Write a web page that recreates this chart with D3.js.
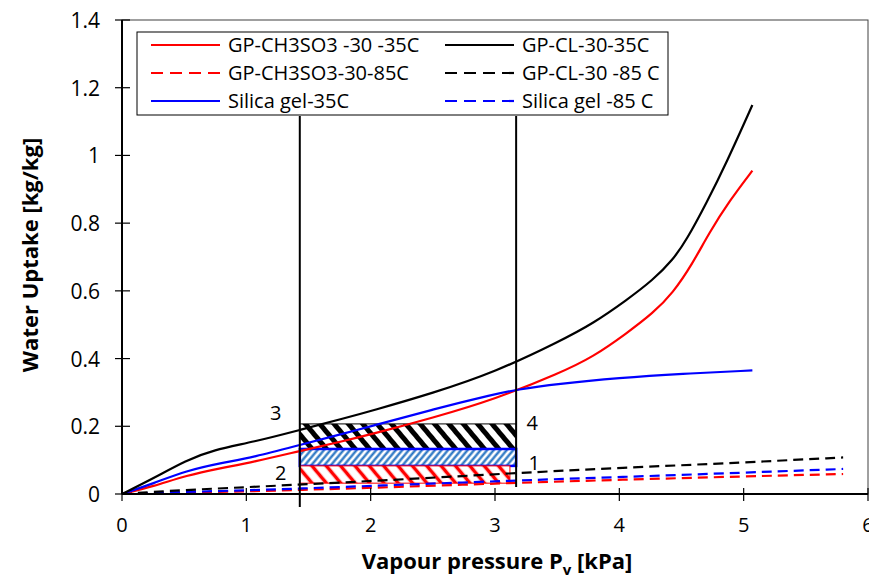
<!DOCTYPE html>
<html lang="en">
<head>
<meta charset="utf-8">
<title>Water uptake</title>
<script src="https://cdn.jsdelivr.net/npm/d3@7"></script>
<style>
    body { margin: 0; background: #fff; }
    text { font-family: "Open Sans", sans-serif; fill: #000; }
</style>
</head>
<body>
<script>
// series: [vapour pressure kPa, uptake kg/kg]
var chSolid = [[0,0],[0.25,0.022],[0.52,0.055],[0.79,0.076],[1.06,0.095],[1.43,0.127],
               [1.8,0.158],[2.0,0.176],[2.5,0.225],[3.0,0.28],[3.52,0.357],[3.79,0.405],[4.06,0.475],
               [4.27,0.534],[4.43,0.593],[4.59,0.681],[4.72,0.77],[4.89,0.868],[5.07,0.955]];
var clSolid = [[0,0],[0.25,0.046],[0.52,0.10],[0.73,0.13],[1.06,0.154],[1.43,0.189],
               [1.8,0.225],[2.0,0.245],[2.5,0.298],[3.0,0.36],[3.52,0.451],[3.79,0.504],[4.06,0.573],
               [4.27,0.632],[4.43,0.691],[4.54,0.75],[4.70,0.859],[4.86,0.977],[5.07,1.149]];
var sgSolid = [[0,0],[0.25,0.031],[0.52,0.069],[0.79,0.091],[1.06,0.109],[1.43,0.145],
               [1.8,0.18],[2.0,0.20],[2.5,0.25],[3.0,0.295],[3.17,0.308],[3.5,0.325],[4.0,0.343],
               [4.5,0.355],[5.07,0.365]];
var chDash = [[0,0],[0.5,0.004],[1.0,0.008],[1.43,0.012],[2.0,0.018],[3.17,0.033],[4.0,0.042],[5.0,0.052],[5.8,0.059]];
var clDash = [[0,0],[0.5,0.012],[1.0,0.02],[1.43,0.028],[2.0,0.038],[3.17,0.062],[4.0,0.077],[5.0,0.093],[5.8,0.108]];
var sgDash = [[0,0],[0.5,0.006],[1.0,0.011],[1.43,0.016],[2.0,0.024],[3.17,0.04],[4.0,0.05],[5.0,0.063],[5.8,0.074]];

var seriesNames = ["GP-CH3SO3 -30 -35C", "GP-CL-30-35C", "GP-CH3SO3-30-85C",
                   "GP-CL-30 -85 C", "Silica gel-35C", "Silica gel -85 C"];

var xTicks = [0, 1, 2, 3, 4, 5, 6];
var yTicks = [0, 0.2, 0.4, 0.6, 0.8, 1, 1.2, 1.4];

// cycle: pressure limits and uptake bands
var pLow = 1.43, pHigh = 3.17;
var bands = [ // [bottom, top, x end]
    [0.133, 0.207, 3.17],
    [0.083, 0.133, 3.17],
    [0.032, 0.083, 3.12]
];
var pointLabels = [["3", 1.43, 0.207], ["4", 3.17, 0.207], ["2", 1.43, 0.032], ["1", 3.17, 0.062]];
var pointOffsets = [[-24, -4], [16, 6], [-19, -3], [18, -3]];

var w = 869, h = 576;
var x = d3.scaleLinear().domain([0, 6]).range([122, 868]);
var y = d3.scaleLinear().domain([0, 1.4]).range([494, 20]);

var svg = d3.select("body").append("svg").attr("width", w).attr("height", h);

// hatch patterns
var defs = svg.append("defs");
function hatch(id, color, period, angle, sw) {
    var p = defs.append("pattern")
        .attr("id", id)
        .attr("patternUnits", "userSpaceOnUse")
        .attr("width", period).attr("height", period)
        .attr("patternTransform", "rotate(" + angle + ")");
    p.append("rect").attr("width", period).attr("height", period).attr("fill", "#fff");
    p.append("line")
        .attr("x1", period / 2).attr("y1", 0).attr("x2", period / 2).attr("y2", period)
        .attr("stroke", color).attr("stroke-width", sw);
}
hatch("hBlack", "#000", 11, -40, 5);
hatch("hBlue", "#1f6fc0", 5, 40, 2.2);
hatch("hRed", "#ff0000", 11, -40, 3.5);

// plot frame
svg.append("rect")
    .attr("x", 122).attr("y", 20).attr("width", 746).attr("height", 474)
    .attr("fill", "none").attr("stroke", "#404040").attr("stroke-width", 1);

// bands
var bandStyle = [["url(#hBlack)", "#000", 1], ["url(#hBlue)", "#0000ff", 2.5], ["url(#hRed)", "#ff0000", 1]];
svg.selectAll("rect.band")
    .data(bands)
    .enter()
    .append("rect")
    .attr("class", "band")
    .attr("x", x(pLow))
    .attr("y", function(d) { return y(d[1]); })
    .attr("width", function(d) { return x(d[2]) - x(pLow); })
    .attr("height", function(d) { return y(d[0]) - y(d[1]); })
    .attr("fill", function(d, i) { return bandStyle[i][0]; })
    .attr("stroke", function(d, i) { return bandStyle[i][1]; })
    .attr("stroke-width", function(d, i) { return bandStyle[i][2]; });

// curves (smoothed like the spreadsheet lines)
var line = d3.line()
    .x(function(d) { return x(d[0]); })
    .y(function(d) { return y(d[1]); })
    .curve(d3.curveBasis);

var curves = [
    [chDash, "#ff0000", true], [sgDash, "#0000ff", true], [clDash, "#000", true],
    [chSolid, "#ff0000", false], [sgSolid, "#0000ff", false], [clSolid, "#000", false]
];
svg.selectAll("path.curve")
    .data(curves)
    .enter()
    .append("path")
    .attr("class", "curve")
    .attr("d", function(d) { return line(d[0]); })
    .attr("fill", "none")
    .attr("stroke", function(d) { return d[1]; })
    .attr("stroke-width", 2.2)
    .attr("stroke-dasharray", function(d) { return d[2] ? "10,6" : null; });

// pressure lines
svg.append("line")
    .attr("x1", x(pLow)).attr("x2", x(pLow))
    .attr("y1", 116).attr("y2", 507)
    .attr("stroke", "#000").attr("stroke-width", 2);
svg.append("line")
    .attr("x1", x(pHigh)).attr("x2", x(pHigh))
    .attr("y1", 116).attr("y2", 487)
    .attr("stroke", "#000").attr("stroke-width", 2);

// point labels
svg.selectAll("text.pt")
    .data(pointLabels)
    .enter()
    .append("text")
    .attr("class", "pt")
    .text(function(d) { return d[0]; })
    .attr("x", function(d, i) { return x(d[1]) + pointOffsets[i][0]; })
    .attr("y", function(d, i) { return y(d[2]) + pointOffsets[i][1]; })
    .attr("font-size", "20px")
    .attr("text-anchor", "middle");

// axes
var xAxis = svg.append("g").attr("transform", "translate(0,494)");
xAxis.append("line").attr("x1", 122).attr("x2", 868).attr("y1", 0).attr("y2", 0)
    .attr("stroke", "#000").attr("stroke-width", 2);
xAxis.selectAll("line.tick")
    .data(xTicks)
    .enter()
    .append("line")
    .attr("class", "tick")
    .attr("x1", function(d) { return x(d); }).attr("x2", function(d) { return x(d); })
    .attr("y1", -6).attr("y2", 7)
    .attr("stroke", "#000").attr("stroke-width", 1.2);
xAxis.selectAll("text")
    .data(xTicks)
    .enter()
    .append("text")
    .text(function(d) { return d; })
    .attr("x", function(d) { return x(d); })
    .attr("y", 38)
    .attr("font-size", "20px")
    .attr("text-anchor", "middle");

var yAxis = svg.append("g");
yAxis.append("line").attr("x1", 122).attr("x2", 122).attr("y1", 20).attr("y2", 494)
    .attr("stroke", "#000").attr("stroke-width", 2);
yAxis.selectAll("line.tick")
    .data(yTicks)
    .enter()
    .append("line")
    .attr("class", "tick")
    .attr("x1", 115).attr("x2", 130)
    .attr("y1", function(d) { return y(d); }).attr("y2", function(d) { return y(d); })
    .attr("stroke", "#000").attr("stroke-width", 1.2);
yAxis.selectAll("text")
    .data(yTicks)
    .enter()
    .append("text")
    .text(function(d) { return d; })
    .attr("x", 100)
    .attr("y", function(d) { return y(d) + 8; })
    .attr("font-size", "21px")
    .attr("text-anchor", "end");

// axis titles
svg.append("text")
    .attr("transform", "translate(38,255) rotate(-90)")
    .attr("text-anchor", "middle")
    .attr("font-size", "22px")
    .attr("font-weight", "bold")
    .text("Water Uptake [kg/kg]");
var xt = svg.append("text")
    .attr("x", 497).attr("y", 569)
    .attr("text-anchor", "middle")
    .attr("font-size", "22px")
    .attr("font-weight", "bold");
xt.append("tspan").text("Vapour pressure P");
xt.append("tspan").attr("font-size", "15px").attr("dy", 6).text("v");
xt.append("tspan").attr("dy", -6).text(" [kPa]");

// legend
var legend = svg.append("g");
legend.append("rect")
    .attr("x", 137).attr("y", 32).attr("width", 531).attr("height", 83)
    .attr("fill", "#fff").attr("stroke", "#000").attr("stroke-width", 1);
var legendStyle = [["#ff0000", false], ["#000", false], ["#ff0000", true],
                   ["#000", true], ["#0000ff", false], ["#0000ff", true]];
var items = legend.selectAll("g.item")
    .data(seriesNames)
    .enter()
    .append("g")
    .attr("class", "item")
    .attr("transform", function(d, i) {
        return "translate(" + (i % 2 === 0 ? 151 : 445) + "," + (45 + Math.floor(i / 2) * 28) + ")";
    });
items.append("line")
    .attr("x1", 0).attr("x2", 69).attr("y1", 0).attr("y2", 0)
    .attr("stroke", function(d, i) { return legendStyle[i][0]; })
    .attr("stroke-width", 2.2)
    .attr("stroke-dasharray", function(d, i) { return legendStyle[i][1] ? "12,7" : null; });
items.append("text")
    .text(function(d) { return d; })
    .attr("x", 77)
    .attr("y", 7)
    .attr("font-size", "20px");
</script>
</body>
</html>
